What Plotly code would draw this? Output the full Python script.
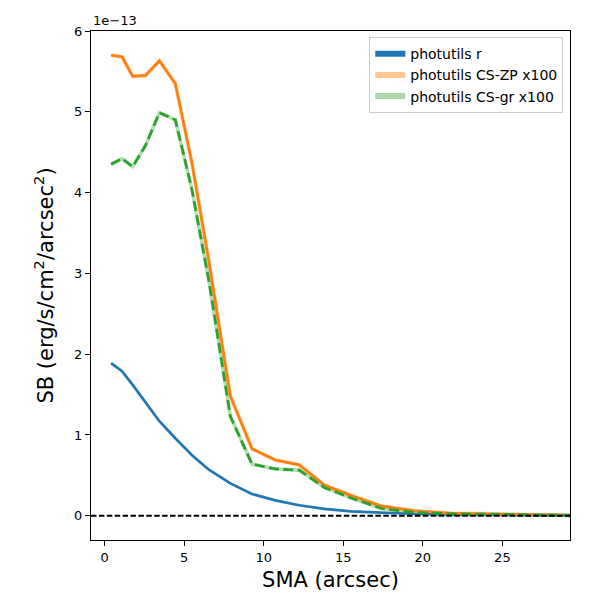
import plotly.graph_objects as go

# SMA (arcsec)
sma = [0.40, 1.09, 1.76, 2.56, 3.44, 4.44, 5.49, 6.55, 7.90, 9.26, 10.72, 12.23,
       13.80, 15.50, 17.40, 19.50, 21.80, 24.30, 27.00, 29.70]
# Surface brightness in units of 1e-13 erg/s/cm^2/arcsec^2
sb_r = [1.89, 1.79, 1.62, 1.40, 1.17, 0.96, 0.75, 0.57, 0.40, 0.27, 0.19, 0.13,
        0.085, 0.055, 0.035, 0.022, 0.014, 0.009, 0.006, 0.004]
sb_zp = [5.70, 5.68, 5.44, 5.45, 5.63, 5.35, 4.36, 3.15, 1.48, 0.83, 0.69, 0.63,
         0.38, 0.25, 0.12, 0.06, 0.03, 0.02, 0.01, 0.005]
sb_gr = [4.35, 4.42, 4.32, 4.58, 4.99, 4.90, 4.03, 2.91, 1.23, 0.64, 0.58, 0.565,
         0.35, 0.22, 0.09, 0.04, 0.025, 0.015, 0.008, 0.004]

labels = ["photutils r", "photutils CS-ZP x100", "photutils CS-gr x100"]
x_ticks = [0, 5, 10, 15, 20, 25]
y_ticks = [0, 1, 2, 3, 4, 5, 6]

BLUE = "#1f77b4"
ORANGE = "#ff7f0e"
GREEN = "#2ca02c"
FONT = "DejaVu Sans"

fig = go.Figure()

# light bands
fig.add_trace(go.Scatter(x=sma, y=sb_zp, mode="lines", showlegend=False,
                         line=dict(color="rgba(255,127,14,0.3)", width=4)))
fig.add_trace(go.Scatter(x=sma, y=sb_gr, mode="lines", showlegend=False,
                         line=dict(color="rgba(44,160,44,0.35)", width=3.6)))

# main lines
fig.add_trace(go.Scatter(x=sma, y=sb_r, mode="lines", showlegend=False,
                         line=dict(color=BLUE, width=2.7)))
fig.add_trace(go.Scatter(x=sma, y=sb_zp, mode="lines", showlegend=False,
                         line=dict(color=ORANGE, width=2.7)))
fig.add_trace(go.Scatter(x=sma, y=sb_gr, mode="lines", showlegend=False,
                         line=dict(color=GREEN, width=2.7, dash="10px,4.4px")))

# legend patches
for name, col in zip(labels, [BLUE, "rgba(255,127,14,0.45)", "rgba(44,160,44,0.4)"]):
    fig.add_trace(go.Scatter(x=[None], y=[None], mode="none", name=name,
                             fill="toself", fillcolor=col))

# zero line
fig.add_shape(type="line", xref="paper", yref="y", x0=0, x1=1, y0=0, y1=0,
              line=dict(color="black", width=2, dash="5.5px,2.4px"))

axis_common = dict(showgrid=False, zeroline=False, showline=True, linecolor="black",
                   linewidth=1, mirror=True, ticks="outside", ticklen=5,
                   tickcolor="black", tickfont=dict(family=FONT, size=13, color="black"))

fig.update_xaxes(range=[-0.86, 29.25], tickvals=x_ticks,
                 title=dict(text="SMA (arcsec)", font=dict(family=FONT, size=21, color="black"),
                            standoff=8),
                 **axis_common)
fig.update_yaxes(range=[-0.3, 6.0], tickvals=y_ticks,
                 title=dict(text="SB (erg/s/cm<sup>2</sup>/arcsec<sup>2</sup>)",
                            font=dict(family=FONT, size=21, color="black"), standoff=14),
                 **axis_common)

fig.add_annotation(text="1e\u221213", xref="paper", yref="paper", x=0, y=1,
                   xanchor="left", yanchor="bottom", showarrow=False,
                   font=dict(family=FONT, size=13, color="black"), yshift=1)

fig.update_layout(
    width=600, height=600,
    margin=dict(l=83, r=38, t=23, b=68),
    plot_bgcolor="white", paper_bgcolor="white",
    font=dict(family=FONT, color="black"),
    legend=dict(x=0.986, y=0.988, xanchor="right", yanchor="top",
                bgcolor="rgba(255,255,255,0.8)", bordercolor="#cccccc", borderwidth=1,
                font=dict(family=FONT, size=14, color="black"),
                tracegroupgap=0, itemwidth=30),
)

fig.write_html("out.html")
